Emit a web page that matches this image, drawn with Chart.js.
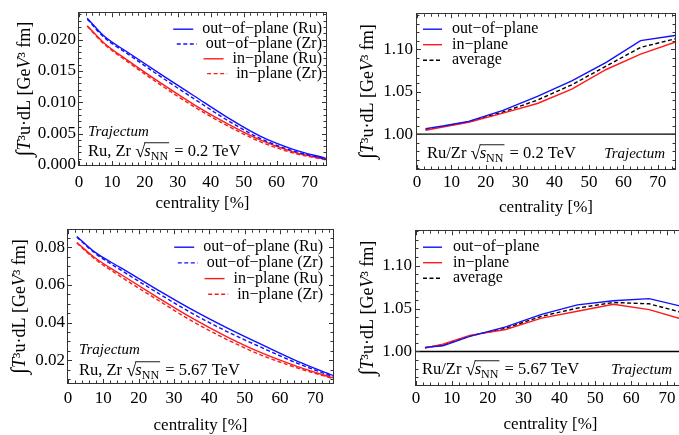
<!DOCTYPE html>
<html><head><meta charset="utf-8">
<script src="https://cdn.jsdelivr.net/npm/chart.js@4/dist/chart.umd.min.js"></script>
<style>
html,body{margin:0;padding:0;background:#fff;overflow:hidden;width:679px;height:435px;position:relative}
.p{position:absolute}
canvas{display:block}
</style></head><body>
<div class="p" style="left:0;top:0"><canvas id="c1"></canvas></div>
<div class="p" style="left:340px;top:0"><canvas id="c2"></canvas></div>
<div class="p" style="left:0;top:217px"><canvas id="c3"></canvas></div>
<div class="p" style="left:340px;top:217px"><canvas id="c4"></canvas></div>
<script>
// ---------------- data ----------------
const centrality = [2.5, 7.5, 15, 25, 35, 45, 55, 65, 75];
const xTickLabels = ["0","10","20","30","40","50","60","70"];
const xRange = [0, 75];

// sqrt(s_NN) = 0.2 TeV
const rhicOutRu = [0.0234, 0.0206, 0.0179, 0.0144, 0.0110, 0.0076, 0.0046, 0.0025, 0.00105];
const rhicOutZr = [0.02325, 0.02041, 0.01764, 0.01401, 0.01053, 0.00715, 0.00424, 0.00225, 0.00094];
const rhicInRu  = [0.0222, 0.0195, 0.0166, 0.0130, 0.0096, 0.0066, 0.0040, 0.0021, 0.0009];
const rhicInZr  = [0.0221, 0.01934, 0.01637, 0.01269, 0.00927, 0.00627, 0.00372, 0.00192, 0.00081];
const rhicRatioOut = [1.0065, 1.0095, 1.015, 1.028, 1.0445, 1.0627, 1.0844, 1.110, 1.116];
const rhicRatioIn  = [1.0046, 1.0084, 1.014, 1.0247, 1.036, 1.053, 1.076, 1.094, 1.108];
const rhicRatioAvg = [1.0055, 1.009, 1.0145, 1.026, 1.040, 1.058, 1.080, 1.102, 1.112];

// sqrt(s_NN) = 5.67 TeV
const lhcOutRu = [0.0857, 0.0775, 0.0690, 0.0578, 0.0470, 0.0372, 0.0282, 0.0195, 0.0120];
const lhcOutZr = [0.08529, 0.07699, 0.06781, 0.05619, 0.04505, 0.03529, 0.02663, 0.01837, 0.01141];
const lhcInRu  = [0.0825, 0.0745, 0.0655, 0.0538, 0.0425, 0.0325, 0.0238, 0.0167, 0.0107];
const lhcInZr  = [0.08217, 0.07388, 0.0643, 0.05246, 0.04091, 0.03104, 0.02256, 0.01592, 0.01032];
const lhcRatioOut = [1.0048, 1.0066, 1.0176, 1.0286, 1.0432, 1.0542, 1.059, 1.0615, 1.0516];
const lhcRatioIn  = [1.004, 1.0084, 1.0187, 1.0256, 1.0388, 1.0469, 1.055, 1.0487, 1.0366];
const lhcRatioAvg = [1.0044, 1.0075, 1.018, 1.027, 1.041, 1.0505, 1.057, 1.0555, 1.0445];

const unityX = [0, 75];
const unityY = [1, 1];

const yTicksRhic = ["0.000","0.005","0.010","0.015","0.020"];
const yTicksLhc  = ["0.02","0.04","0.06","0.08"];
const yTicksRatio = ["1.00","1.05","1.10"];

// y title pieces: [text, italic, scale]
const yTitleParts = [["\u222B", false, 1.25], ["T", true, 1], ["\u00B3", false, 1], ["u\u00B7dL [Ge", false, 1], ["V", true, 1], ["\u00B3", false, 1], [" fm]", false, 1]];
const xTitle = "centrality [%]";
const legendAbs = ["out\u2212of\u2212plane (Ru)","out\u2212of\u2212plane (Zr)","in\u2212plane (Ru)","in\u2212plane (Zr)"];
const legendRatio = ["out\u2212of\u2212plane","in\u2212plane","average"];

// ---------------- helpers ----------------
const SERIF = '"Liberation Serif","Times New Roman",serif';
Chart.defaults.font.family = SERIF;
const BLUE = '#1010ff', RED = '#ff1a1a';
const xy = arr => centrality.map((x, i) => ({x: x, y: arr[i]}));

function absSets(outRu, outZr, inRu, inZr) {
  const base = {pointRadius: 0, borderWidth: 1.4, fill: false, cubicInterpolationMode: 'monotone'};
  return [
    Object.assign({label: legendAbs[0], data: xy(outRu), borderColor: BLUE}, base),
    Object.assign({label: legendAbs[1], data: xy(outZr), borderColor: BLUE, borderDash: [4, 2.5]}, base),
    Object.assign({label: legendAbs[2], data: xy(inRu), borderColor: RED}, base),
    Object.assign({label: legendAbs[3], data: xy(inZr), borderColor: RED, borderDash: [4, 2.5]}, base)
  ];
}
function ratioSets(out, inn, avg) {
  const base = {pointRadius: 0, borderWidth: 1.4, fill: false, tension: 0};
  return [
    Object.assign({label: legendRatio[0], data: xy(out), borderColor: BLUE}, base),
    Object.assign({label: legendRatio[1], data: xy(inn), borderColor: RED}, base),
    Object.assign({label: legendRatio[2], data: xy(avg), borderColor: '#000', borderDash: [4, 2.5], borderWidth: 1.2}, base),
    Object.assign({label: '', noLegend: true, data: unityX.map((x, i) => ({x: x, y: unityY[i]})), borderColor: '#000', borderWidth: 1}, base)
  ];
}

const decoCfg = {};

function drawEnergy(ctx, x, y, prefix, suffix, fs) {
  ctx.save();
  ctx.fillStyle = '#000';
  ctx.textBaseline = 'middle';
  ctx.textAlign = 'left';
  ctx.font = fs + 'px ' + SERIF;
  ctx.fillText(prefix, x, y); x += ctx.measureText(prefix).width;
  ctx.font = (fs + 2) + 'px ' + SERIF;
  ctx.fillText('\u221A', x, y); x += ctx.measureText('\u221A').width - 1;
  const x0 = x;
  ctx.font = 'italic ' + fs + 'px ' + SERIF;
  ctx.fillText('s', x, y); x += ctx.measureText('s').width;
  ctx.font = Math.round(fs * 0.72) + 'px ' + SERIF;
  ctx.fillText('NN', x, y + fs * 0.28); x += ctx.measureText('NN').width;
  ctx.strokeStyle = '#000'; ctx.lineWidth = 0.9;
  ctx.beginPath(); ctx.moveTo(x0, y - fs * 0.56); ctx.lineTo(x + 1, y - fs * 0.56); ctx.stroke();
  ctx.font = fs + 'px ' + SERIF;
  ctx.fillText(suffix, x + 2, y);
  ctx.restore();
}

function drawYTitle(ctx, cx, cy, fs) {
  ctx.save();
  ctx.translate(cx, cy);
  ctx.rotate(-Math.PI / 2);
  ctx.fillStyle = '#000';
  ctx.textBaseline = 'middle';
  ctx.textAlign = 'left';
  const fonts = yTitleParts.map(p => (p[1] ? 'italic ' : '') + Math.round(fs * p[2]) + 'px ' + SERIF);
  let total = 0;
  const widths = yTitleParts.map((p, i) => { ctx.font = fonts[i]; const w = ctx.measureText(p[0]).width; total += w; return w; });
  let x = -total / 2;
  yTitleParts.forEach((p, i) => { ctx.font = fonts[i]; ctx.fillText(p[0], x, 0); x += widths[i]; });
  ctx.restore();
}

const decoPlugin = {
  id: 'deco',
  afterDraw(chart) {
    const cfg = decoCfg[chart.canvas.id];
    const ctx = chart.ctx, a = chart.chartArea;
    const xs = chart.scales.x, ys = chart.scales.y;
    ctx.save();
    // frame
    ctx.strokeStyle = '#333'; ctx.lineWidth = 1;
    ctx.strokeRect(Math.round(a.left) - 0.5, Math.round(a.top) - 0.5, Math.round(a.right - a.left) + 1, Math.round(a.bottom - a.top) + 1);
    // ticks
    ctx.beginPath();
    for (let v = xRange[0]; v <= xRange[1] + 1e-9; v += cfg.xMinor) {
      const major = Math.abs(v / 10 - Math.round(v / 10)) < 1e-6;
      const L = major ? 4 : 2.5;
      const px = Math.round(xs.getPixelForValue(v)) + 0.5;
      ctx.moveTo(px, a.bottom); ctx.lineTo(px, a.bottom - L);
      ctx.moveTo(px, a.top); ctx.lineTo(px, a.top + L);
    }
    const ymin = ys.min, ymax = ys.max;
    const start = Math.ceil(ymin / cfg.yMinor - 1e-6) * cfg.yMinor;
    for (let v = start; v <= ymax + 1e-12; v += cfg.yMinor) {
      const major = Math.abs(v / cfg.yMajor - Math.round(v / cfg.yMajor)) < 1e-4;
      const L = major ? 4 : 2.5;
      const py = Math.round(ys.getPixelForValue(v)) + 0.5;
      ctx.moveTo(a.left, py); ctx.lineTo(a.left + L, py);
      ctx.moveTo(a.right, py); ctx.lineTo(a.right - L, py);
    }
    ctx.stroke();
    // y title
    drawYTitle(ctx, cfg.yTitleX, (a.top + a.bottom) / 2, 17.5);
    // legend
    const lg = cfg.legend;
    ctx.font = lg.fs + 'px ' + SERIF;
    ctx.textBaseline = 'middle';
    ctx.fillStyle = '#000';
    let row = 0;
    chart.data.datasets.forEach(ds => {
      if (ds.noLegend) return;
      const y = a.top + lg.y0 + row * lg.dy;
      let tx, sx;
      if (lg.align === 'right') {
        const w = ctx.measureText(ds.label).width;
        tx = a.right - lg.dx - w;
        sx = tx - lg.gap - lg.len;
      } else {
        sx = a.left + lg.dx;
        tx = sx + lg.len + lg.gap;
      }
      ctx.save();
      ctx.strokeStyle = ds.borderColor; ctx.lineWidth = 1.4;
      ctx.setLineDash(ds.borderDash || []);
      ctx.beginPath(); ctx.moveTo(sx, y); ctx.lineTo(sx + lg.len, y); ctx.stroke();
      ctx.restore();
      ctx.textAlign = 'left';
      ctx.fillText(ds.label, tx, y);
      row++;
    });
    // notes
    cfg.notes.forEach(n => {
      if (n.kind === 'traj') {
        ctx.font = 'italic ' + n.fs + 'px ' + SERIF;
        ctx.textAlign = n.align; ctx.textBaseline = 'middle';
        ctx.fillText('Trajectum', n.x, n.y);
      } else {
        drawEnergy(ctx, n.x, n.y, n.prefix, n.suffix, n.fs);
      }
    });
    ctx.restore();
  }
};

function makePanel(p) {
  const canvas = document.getElementById(p.id);
  canvas.width = p.w; canvas.height = p.h;
  canvas.style.width = p.w + 'px'; canvas.style.height = p.h + 'px';
  decoCfg[p.id] = p.deco;
  const a = p.area;
  const tickFont = {family: SERIF, size: 17};
  new Chart(canvas, {
    type: 'line',
    data: {datasets: p.datasets},
    options: {
      responsive: false, animation: false, devicePixelRatio: 1,
      layout: {padding: {left: 0, top: a.top, right: p.w - a.right, bottom: 0}},
      plugins: {legend: {display: false}, tooltip: {enabled: false}},
      scales: {
        x: {
          type: 'linear', min: xRange[0], max: xRange[1],
          afterFit(s) { s.height = p.h - a.bottom; },
          afterBuildTicks(s) { s.ticks = xTickLabels.map(t => ({value: parseFloat(t)})); },
          ticks: {font: tickFont, color: '#000', padding: p.xPad, maxRotation: 0, autoSkip: false,
                  callback: v => String(v)},
          grid: {display: false, drawTicks: false, tickLength: 0}, border: {display: false},
          title: {display: true, text: xTitle, font: tickFont, color: '#000', padding: {top: 0, bottom: p.xTitlePad}}
        },
        y: {
          type: 'linear', min: p.yRange[0], max: p.yRange[1],
          afterFit(s) { s.width = a.left; },
          afterBuildTicks(s) { s.ticks = p.yTicks.map(t => ({value: parseFloat(t)})); },
          ticks: {font: tickFont, color: '#000', padding: p.yPad, autoSkip: false,
                  callback: (v) => p.yTicks.find(t => Math.abs(parseFloat(t) - v) < 1e-9) || ''},
          grid: {display: false, drawTicks: false, tickLength: 0}, border: {display: false},
          title: {display: false}
        }
      }
    },
    plugins: [decoPlugin]
  });
}

makePanel({
  id: 'c1', w: 340, h: 217, area: {left: 79, top: 13, right: 326, bottom: 165},
  yRange: [0, 0.0242], yTicks: yTicksRhic, xPad: 7, yPad: 3, xTitlePad: 3,
  datasets: absSets(rhicOutRu, rhicOutZr, rhicInRu, rhicInZr),
  deco: {xMinor: 2, yMinor: 0.001, yMajor: 0.005, yTitleX: 25,
    legend: {align: 'right', dx: 4, y0: 16, dy: 14.8, len: 20, gap: 9, fs: 16},
    notes: [{kind: 'traj', x: 88, y: 132, align: 'left', fs: 15},
            {kind: 'energy', x: 88, y: 152, prefix: 'Ru, Zr ', suffix: ' = 0.2 TeV', fs: 16.5}]}
});
makePanel({
  id: 'c2', w: 339, h: 217, area: {left: 77, top: 10, right: 335, bottom: 169},
  yRange: [0.959, 1.141], yTicks: yTicksRatio, xPad: 3, yPad: 4, xTitlePad: -1,
  datasets: ratioSets(rhicRatioOut, rhicRatioIn, rhicRatioAvg),
  deco: {xMinor: 2, yMinor: 0.01, yMajor: 0.05, yTitleX: 28,
    legend: {align: 'left', dx: 6, y0: 15, dy: 15.5, len: 19, gap: 10, fs: 16},
    notes: [{kind: 'energy', x: 87, y: 154, prefix: 'Ru/Zr ', suffix: ' = 0.2 TeV', fs: 16.5},
            {kind: 'traj', x: 325, y: 154, align: 'right', fs: 15}]}
});
makePanel({
  id: 'c3', w: 340, h: 218, area: {left: 68, top: 4, right: 333, bottom: 166},
  yRange: [0.008, 0.089], yTicks: yTicksLhc, xPad: 5, yPad: 3, xTitlePad: -1,
  datasets: absSets(lhcOutRu, lhcOutZr, lhcInRu, lhcInZr),
  deco: {xMinor: 2, yMinor: 0.005, yMajor: 0.02, yTitleX: 20,
    legend: {align: 'right', dx: 10, y0: 17, dy: 15.7, len: 20, gap: 9, fs: 16},
    notes: [{kind: 'traj', x: 79, y: 133, align: 'left', fs: 15},
            {kind: 'energy', x: 79, y: 154, prefix: 'Ru, Zr ', suffix: ' = 5.67 TeV', fs: 16.5}]}
});
makePanel({
  id: 'c4', w: 350, h: 218, area: {left: 76, top: 5, right: 345, bottom: 168},
  yRange: [0.961, 1.140], yTicks: yTicksRatio, xPad: 3, yPad: 4, xTitlePad: 0,
  datasets: ratioSets(lhcRatioOut, lhcRatioIn, lhcRatioAvg),
  deco: {xMinor: 2, yMinor: 0.01, yMajor: 0.05, yTitleX: 28,
    legend: {align: 'left', dx: 7, y0: 16, dy: 15.5, len: 19, gap: 11, fs: 16},
    notes: [{kind: 'energy', x: 82, y: 153, prefix: 'Ru/Zr ', suffix: ' = 5.67 TeV', fs: 16.5},
            {kind: 'traj', x: 332, y: 153, align: 'right', fs: 15}]}
});
</script>
</body></html>
